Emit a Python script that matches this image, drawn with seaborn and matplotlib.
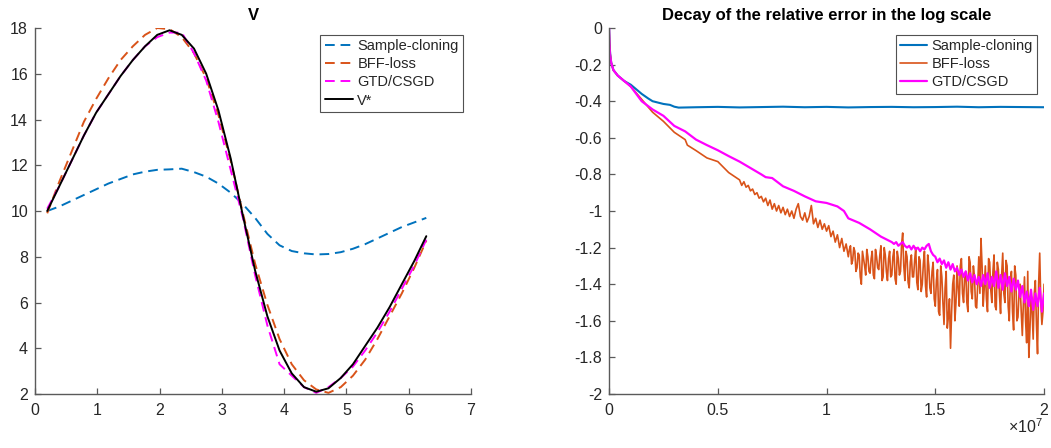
import numpy as np
import pandas as pd
import matplotlib
matplotlib.use("Agg")
import matplotlib.pyplot as plt
import seaborn as sns

# ---------------- Left panel data ----------------
x_grid = [0.196, 0.393, 0.589, 0.785, 0.982, 1.178, 1.374, 1.571, 1.767, 1.963,
          2.160, 2.356, 2.553, 2.749, 2.945, 3.142, 3.338, 3.534, 3.731, 3.927,
          4.123, 4.320, 4.516, 4.712, 4.909, 5.105, 5.301, 5.498, 5.694, 5.890,
          6.087, 6.283]
v_sample = [10.0, 10.2, 10.45, 10.7, 10.95, 11.2, 11.4, 11.6, 11.72, 11.8,
            11.82, 11.85, 11.7, 11.5, 11.2, 10.8, 10.3, 9.7, 9.0, 8.5,
            8.25, 8.15, 8.1, 8.12, 8.2, 8.35, 8.55, 8.8, 9.05, 9.3,
            9.5, 9.7]
v_bff = [9.9, 11.3, 12.6, 13.9, 14.9, 15.8, 16.6, 17.2, 17.7, 18.0,
         17.95, 17.6, 16.9, 15.8, 14.2, 12.2, 9.9, 7.7, 5.9, 4.4,
         3.3, 2.6, 2.2, 2.05, 2.3, 2.8, 3.5, 4.4, 5.4, 6.4,
         7.5, 8.7]
v_gtd = [10.1, 11.1, 12.2, 13.3, 14.3, 15.1, 15.9, 16.6, 17.2, 17.6,
         17.8, 17.8, 16.9, 15.7, 13.9, 11.8, 9.7, 7.2, 5.0, 3.3,
         2.8, 2.3, 2.05, 2.3, 2.7, 3.2, 3.9, 4.7, 5.6, 6.6,
         7.6, 8.75]
v_star = [10.0, 11.1, 12.2, 13.3, 14.3, 15.1, 15.9, 16.6, 17.2, 17.7,
          17.9, 17.7, 17.1, 16.0, 14.4, 12.3, 9.8, 7.4, 5.4, 3.9,
          2.9, 2.3, 2.1, 2.25, 2.7, 3.3, 4.1, 4.9, 5.8, 6.8,
          7.8, 8.9]

# ---------------- Right panel data (iterations in units of 1e7) ----------------
blue_x = [0, 0.002, 0.005, 0.01, 0.02, 0.04, 0.07, 0.1, 0.13, 0.15, 0.18, 0.2,
          0.25, 0.28, 0.3, 0.32, 0.4, 0.5, 0.6, 0.7, 0.8, 0.9, 1.0, 1.1, 1.2,
          1.3, 1.4, 1.5, 1.6, 1.7, 1.8, 1.9, 2.0]
blue_y = [0, -0.08, -0.14, -0.19, -0.23, -0.26, -0.29, -0.31, -0.34, -0.36, -0.385, -0.40,
          -0.415, -0.42, -0.43, -0.435, -0.433, -0.431, -0.434, -0.432, -0.430, -0.433,
          -0.431, -0.434, -0.432, -0.431, -0.433, -0.432, -0.430, -0.433, -0.431, -0.432, -0.433]

bff_head_x = [0, 0.002, 0.005, 0.01, 0.02, 0.04, 0.07, 0.1, 0.15, 0.2, 0.25, 0.3,
              0.35, 0.36, 0.4, 0.45, 0.5, 0.55]
bff_head_y = [0, -0.08, -0.14, -0.19, -0.23, -0.26, -0.29, -0.32, -0.39, -0.46, -0.51, -0.57,
              -0.61, -0.64, -0.67, -0.71, -0.73, -0.79]
# samples at 0.60, 0.61, ..., 2.00
bff_tail_y = [
    -0.83, -0.86, -0.84, -0.87, -0.86, -0.89, -0.88, -0.91, -0.90, -0.93,
    -0.92, -0.95, -0.93, -0.97, -0.94, -0.99, -0.96, -1.00, -0.97, -1.01,
    -0.98, -1.02, -0.99, -1.03, -1.00, -1.04, -0.99, -0.96, -1.03, -1.05,
    -1.01, -1.06, -1.03, -0.97, -1.07, -1.04, -1.09, -1.05, -1.10, -1.07,
    -1.11, -1.08, -1.14, -1.11, -1.17, -1.13, -1.20, -1.15, -1.22, -1.18,
    -1.25, -1.19, -1.27, -1.22, -1.31, -1.24, -1.40, -1.26, -1.35, -1.25,
    -1.34, -1.22, -1.37, -1.25, -1.32, -1.19, -1.36, -1.24, -1.38, -1.22,
    -1.35, -1.21, -1.40, -1.26, -1.33, -1.12, -1.38, -1.25, -1.42, -1.24,
    -1.36, -1.20, -1.43, -1.27, -1.40, -1.22, -1.47, -1.30, -1.45, -1.28,
    -1.52, -1.32, -1.57, -1.36, -1.62, -1.33, -1.58, -1.75, -1.40, -1.60,
    -1.30, -1.52, -1.26, -1.50, -1.33, -1.55, -1.28, -1.48, -1.36, -1.53,
    -1.25, -1.15, -1.52, -1.30, -1.55, -1.28, -1.50, -1.24, -1.54, -1.32,
    -1.56, -1.23, -1.50, -1.30, -1.60, -1.33, -1.65, -1.35, -1.58, -1.40,
    -1.68, -1.36, -1.72, -1.80, -1.45, -1.70, -1.38, -1.78, -1.23, -1.62,
    -1.40]
# extra samples at 1.105, 1.115, ..., 1.995 (the noisy stretch)
bff_mid_y = [
    -1.21, -1.29, -1.20, -1.33, -1.23, -1.36, -1.22, -1.30, -1.21, -1.33,
    -1.26, -1.35, -1.21, -1.31, -1.24, -1.38, -1.20, -1.33, -1.26, -1.36,
    -1.25, -1.37, -1.22, -1.35, -1.18, -1.30, -1.22, -1.39, -1.28, -1.36,
    -1.27, -1.39, -1.25, -1.44, -1.29, -1.41, -1.24, -1.42, -1.33, -1.48,
    -1.38, -1.55, -1.30, -1.50, -1.42, -1.64, -1.48, -1.55, -1.35, -1.50,
    -1.42, -1.30, -1.45, -1.35, -1.50, -1.25, -1.44, -1.30, -1.52, -1.40,
    -1.45, -1.30, -1.42, -1.48, -1.26, -1.43, -1.33, -1.52, -1.28, -1.46,
    -1.35, -1.45, -1.27, -1.52, -1.38, -1.55, -1.30, -1.60, -1.45, -1.55,
    -1.50, -1.60, -1.33, -1.65, -1.55, -1.45, -1.62, -1.40, -1.50, -1.55]

gtd_head_x = [0, 0.002, 0.005, 0.01, 0.02, 0.04, 0.07, 0.1, 0.15, 0.2, 0.25, 0.3,
              0.35, 0.4, 0.45, 0.5, 0.55, 0.6, 0.65, 0.7, 0.72, 0.75, 0.8, 0.85,
              0.9, 0.95, 1.0, 1.05, 1.08, 1.1, 1.15, 1.2, 1.25]
gtd_head_y = [0, -0.09, -0.15, -0.19, -0.23, -0.26, -0.29, -0.32, -0.40, -0.445, -0.48, -0.535,
              -0.565, -0.61, -0.64, -0.668, -0.70, -0.73, -0.765, -0.80, -0.815, -0.82, -0.865, -0.89,
              -0.92, -0.947, -0.956, -0.975, -1.00, -1.04, -1.065, -1.10, -1.14]
# samples at 1.30, 1.31, ..., 2.00
gtd_tail_y = [
    -1.17, -1.18, -1.17, -1.19, -1.18, -1.17, -1.19, -1.20, -1.19, -1.21,
    -1.19, -1.21, -1.20, -1.22, -1.20, -1.21, -1.19, -1.18, -1.22, -1.24,
    -1.25, -1.28, -1.26, -1.29, -1.27, -1.31, -1.28, -1.32, -1.29, -1.33,
    -1.31, -1.35, -1.32, -1.36, -1.33, -1.38, -1.34, -1.39, -1.35, -1.40,
    -1.36, -1.41, -1.35, -1.40, -1.34, -1.42, -1.36, -1.41, -1.33, -1.42,
    -1.35, -1.43, -1.34, -1.41, -1.36, -1.44, -1.37, -1.43, -1.38, -1.47,
    -1.41, -1.50, -1.44, -1.52, -1.43, -1.54, -1.45, -1.52, -1.42, -1.55,
    -1.45]

x_ticks_right = [0, 0.5, 1, 1.5, 2]
x_ticklabels_right = ["0", "0.5", "1", "1.5", "2"]
y_ticks_right = [0, -0.2, -0.4, -0.6, -0.8, -1, -1.2, -1.4, -1.6, -1.8, -2]
y_ticklabels_right = ["0", "-0.2", "-0.4", "-0.6", "-0.8", "-1", "-1.2", "-1.4", "-1.6", "-1.8", "-2"]

C_BLUE = "#0072BD"
C_ORANGE = "#D95319"
C_MAG = "#FF00FF"

sns.set_style("ticks")
plt.rcParams["font.family"] = ["Liberation Sans", "DejaVu Sans"]
plt.rcParams["mathtext.default"] = "regular"
plt.rcParams["xtick.direction"] = "in"
plt.rcParams["ytick.direction"] = "in"

fig = plt.figure(figsize=(10.51, 4.48), dpi=100)
axL = fig.add_axes([0.0333, 0.1205, 0.4148, 0.817])
axR = fig.add_axes([0.5795, 0.1205, 0.4139, 0.817])

TXT_COL = "#262626"
AX_COL = "#5a5a5a"
FS_TICK = 11.5
FS_LEG = 10.5
FS_TITLE = 12
DASH = (0, (5, 3))

# ---- Left ----
dfL = pd.DataFrame({"x": x_grid, "Sample-cloning": v_sample, "BFF-loss": v_bff,
                    "GTD/CSGD": v_gtd, "V*": v_star})
sns.lineplot(data=dfL, x="x", y="Sample-cloning", ax=axL, color=C_BLUE, lw=1.4,
             label="Sample-cloning", linestyle=DASH)
sns.lineplot(data=dfL, x="x", y="BFF-loss", ax=axL, color=C_ORANGE, lw=1.4,
             label="BFF-loss", linestyle=DASH)
sns.lineplot(data=dfL, x="x", y="GTD/CSGD", ax=axL, color=C_MAG, lw=1.4,
             label="GTD/CSGD", linestyle=DASH)
sns.lineplot(data=dfL, x="x", y="V*", ax=axL, color="black", lw=1.4, label="V*")
axL.set_xlim(0, 7)
axL.set_ylim(2, 18)
axL.set_xticks(range(0, 8))
axL.set_yticks(range(2, 19, 2))
axL.set_title("V", fontsize=FS_TITLE, fontweight="bold", pad=6, color="black")
axL.set_xlabel("")
axL.set_ylabel("")
legL = axL.legend(loc="upper right", bbox_to_anchor=(0.982, 0.981), fontsize=FS_LEG, frameon=True,
                  fancybox=False, edgecolor=TXT_COL, handlelength=1.95, handletextpad=0.3,
                  borderpad=0.3, labelspacing=0.28, borderaxespad=0.0)
legL.get_frame().set_linewidth(0.8)

# ---- Right ----
bff_tail_x = list(np.round(np.arange(0.60, 2.0001, 0.01), 3))
bff_mid_x = list(np.round(np.arange(1.105, 1.9951, 0.01), 3))
gtd_tail_x = list(np.round(np.arange(1.30, 2.0001, 0.01), 3))
dfB = pd.DataFrame({"x": np.array(blue_x) * 1e7, "y": blue_y})
dfF = pd.DataFrame({"x": np.array(bff_head_x + bff_tail_x + bff_mid_x) * 1e7,
                    "y": bff_head_y + bff_tail_y + bff_mid_y})
dfG = pd.DataFrame({"x": np.array(gtd_head_x + gtd_tail_x) * 1e7, "y": gtd_head_y + gtd_tail_y})
sns.lineplot(data=dfB, x="x", y="y", ax=axR, color=C_BLUE, lw=1.5, label="Sample-cloning")
sns.lineplot(data=dfF, x="x", y="y", ax=axR, color=C_ORANGE, lw=1.2, label="BFF-loss")
sns.lineplot(data=dfG, x="x", y="y", ax=axR, color=C_MAG, lw=1.6, label="GTD/CSGD")
axR.set_xlim(0, 2e7)
axR.set_ylim(-2, 0)
axR.set_xticks([t * 1e7 for t in x_ticks_right])
axR.set_xticklabels(x_ticklabels_right)
axR.set_yticks(y_ticks_right)
axR.set_yticklabels(y_ticklabels_right)
axR.set_title("Decay of the relative error in the log scale", fontsize=FS_TITLE,
              fontweight="bold", pad=6, color="black")
axR.set_xlabel("")
axR.set_ylabel("")
axR.text(0.998, -0.063, r"$\times10^{7}$", transform=axR.transAxes, ha="right", va="top",
         fontsize=FS_TICK, color=TXT_COL)
legR = axR.legend(loc="upper right", bbox_to_anchor=(0.984, 0.981), fontsize=FS_LEG, frameon=True,
                  fancybox=False, edgecolor=TXT_COL, handlelength=1.85, handletextpad=0.3,
                  borderpad=0.3, labelspacing=0.28, borderaxespad=0.0)
legR.get_frame().set_linewidth(0.8)

for ax in (axL, axR):
    sns.despine(ax=ax)
    for s in ("left", "bottom"):
        ax.spines[s].set_color(AX_COL)
        ax.spines[s].set_linewidth(1.0)
    ax.tick_params(axis="both", labelsize=FS_TICK, labelcolor=TXT_COL, color=AX_COL,
                   length=4, width=0.9)
    ax.tick_params(axis="x", pad=6.5)
    ax.tick_params(axis="y", pad=5)
    ax.grid(False)

fig.savefig("out.png", dpi=100)
